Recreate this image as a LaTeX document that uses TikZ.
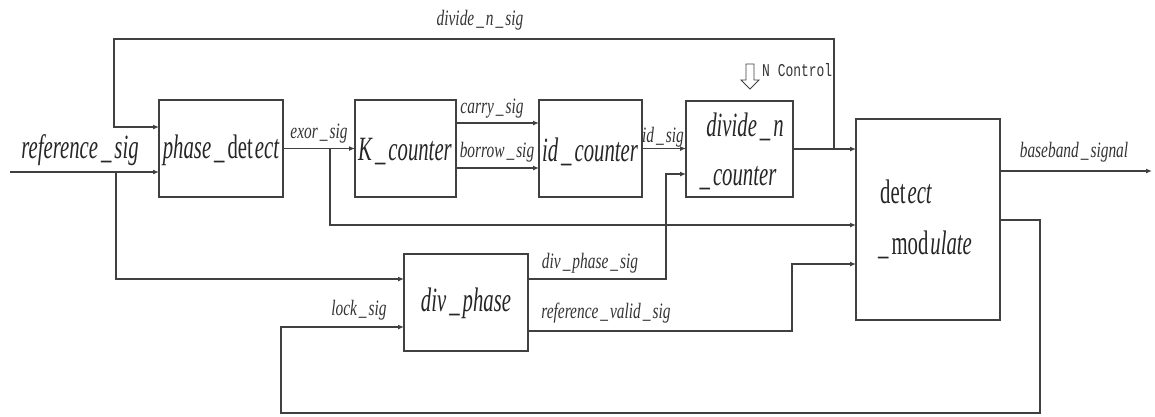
\documentclass[tikz,border=0pt]{standalone}
\usepackage{fontspec}
\setmainfont{Liberation Serif}
\newfontfamily\bigf[FakeStretch=0.61]{Liberation Serif}
\newfontfamily\smf[FakeStretch=0.7]{Liberation Serif}
\newfontfamily\monof[FakeStretch=0.72]{Liberation Mono}
\usetikzlibrary{arrows.meta}
\newcommand{\us}{\kern3pt\_\kern3pt}
\newcommand{\uss}{\kern2pt\_\kern2pt}
\begin{document}
\begin{tikzpicture}[x=1pt,y=-1pt,
  blk/.style={draw=black!75, line width=1.4pt, inner sep=0pt, outer sep=0pt},
  wire/.style={draw=black!75, line width=1.4pt},
  arr/.style={wire, -{Latex[length=6pt,width=5pt]}},
  bigtxt/.style={font=\bigf\fontsize{34}{36}\selectfont\itshape, text=black!85, inner sep=0pt},
  smtxt/.style={font=\smf\fontsize{22}{24}\selectfont\itshape, text=black!80, inner sep=0pt},
  montxt/.style={font=\monof\fontsize{18}{20}\selectfont, text=black!80, inner sep=0pt}]
\useasboundingbox (0,0) rectangle (1155,416);
% blocks
\node[blk, minimum width=124pt, minimum height=97pt] (pd) at (221,148.5) {};
\node[blk, minimum width=101pt, minimum height=97pt] (kc) at (405.5,148.5) {};
\node[blk, minimum width=103pt, minimum height=97pt] (ic) at (590.5,148.5) {};
\node[blk, minimum width=107pt, minimum height=96pt] (dn) at (739.5,149) {};
\node[blk, minimum width=144pt, minimum height=201pt] (dm) at (928,219.5) {};
\node[blk, minimum width=124pt, minimum height=97pt] (dp) at (466,302.5) {};
% block texts
\node[bigtxt] (tpd) at (221,150) {phase\us\upshape det\kern2pt\itshape ect};
\node[bigtxt] (tkc) at (405,152) {K\us counter};
\node[bigtxt] (tic) at (590,152) {id\us counter};
\node[bigtxt] (tdn1) at (745,127) {divide\us n};
\node[bigtxt] (tdn2) at (738,178) {\_\kern3pt counter};
\node[bigtxt, anchor=west] (tdm1) at (880,192) {\upshape det\kern2pt\itshape ect};
\node[bigtxt, anchor=west] (tdm2) at (878,245) {\_\kern3pt\upshape mod\kern2pt\itshape ulate};
\node[bigtxt] (tdp) at (466,303) {div\us phase};
\node[bigtxt] (tref) at (80,150) {reference\us sig};
% signal labels
\node[smtxt] (ldn) at (480,20) {divide\uss n\uss sig};
\node[smtxt] (lex) at (319,134) {exor\uss sig};
\node[smtxt] (lca) at (492,109) {carry\uss sig};
\node[smtxt] (lbo) at (497,152) {borrow\uss sig};
\node[smtxt] (lid) at (663,137) {id\uss sig};
\node[smtxt] (ldps) at (590,263) {div\uss phase\uss sig};
\node[smtxt] (lrv) at (606,313) {reference\uss valid\uss sig};
\node[smtxt] (llk) at (359,310) {lock\uss sig};
\node[smtxt] (lbb) at (1074,152) {baseband\uss signal};
\node[montxt, anchor=west] (lnc) at (762,70) {N Control};
\draw[line width=0.8pt, draw=black!75] (746,64) -- (754,64) -- (754,80) -- (759,80) -- (750,89) -- (741,80) -- (746,80) -- cycle;
% helper coordinates
\coordinate (refin) at (10,172);
\coordinate (b1) at (116,172);
\coordinate (b1d) at (116,279);
\coordinate (fb) at (834,149);
\coordinate (fbt) at (834,39);
\coordinate (fbl) at (114,39);
\coordinate (fbd) at (114,127);
\coordinate (eb) at (330,148.5);
\coordinate (ebd) at (330,225);
\coordinate (cy) at (0,123);
\coordinate (bw) at (0,168);
\coordinate (dps) at (666,279);
\coordinate (dpt) at (666,174);
\coordinate (rv1) at (792,331);
\coordinate (rv2) at (792,264);
\coordinate (bbo) at (1152,171);
\coordinate (l1) at (1040,220);
\coordinate (l2) at (1040,413);
\coordinate (l3) at (281,413);
\coordinate (l4) at (281,327);
% connectors
\draw[arr] (refin) -- (refin -| pd.west);
\draw[arr] (b1) -- (b1d) -- (b1d -| dp.west);
\draw[arr] (dn.east) -- (dn.east -| dm.west);
\draw[arr] (fb) -- (fbt) -- (fbl) -- (fbd) -- (fbd -| pd.west);
\draw[arr] (pd.east) -- (kc.west);
\draw[arr] (eb) -- (ebd) -- (ebd -| dm.west);
\draw[arr] (kc.east |- cy) -- (ic.west |- cy);
\draw[arr] (kc.east |- bw) -- (ic.west |- bw);
\draw[arr] (ic.east) -- (ic.east -| dn.west);
\draw[arr] (dp.east |- dps) -- (dps) -- (dpt) -- (dpt -| dn.west);
\draw[arr] (dp.east |- rv1) -- (rv1) -- (rv2) -- (rv2 -| dm.west);
\draw[arr] (dm.east |- bbo) -- (bbo);
\draw[arr] (dm.east |- l1) -- (l1) -- (l2) -- (l3) -- (l4) -- (l4 -| dp.west);
\end{tikzpicture}
\end{document}
